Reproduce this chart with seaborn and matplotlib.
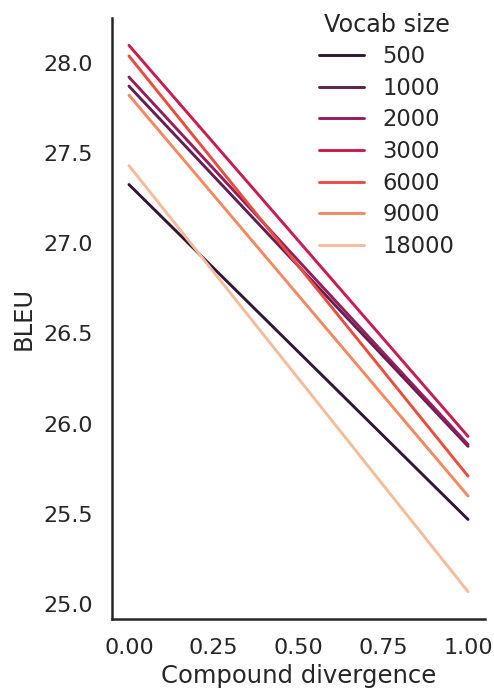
import pandas as pd
import matplotlib
matplotlib.use("Agg")
import matplotlib.pyplot as plt
import seaborn as sns

# BLEU at compound divergence 0 and 1, per vocab size
vocab_sizes = ["500", "1000", "2000", "3000", "6000", "9000", "18000"]
divergence = [0.0, 1.0]
bleu_start = [27.325, 27.87, 27.92, 28.096, 28.037, 27.82, 27.43]
bleu_end = [25.47, 25.875, 25.885, 25.93, 25.71, 25.60, 25.07]

rows = []
for v, b0, b1 in zip(vocab_sizes, bleu_start, bleu_end):
    rows.append({"Vocab size": v, "Compound divergence": divergence[0], "BLEU": b0})
    rows.append({"Vocab size": v, "Compound divergence": divergence[1], "BLEU": b1})
df = pd.DataFrame(rows)

sns.set_theme(style="white", font_scale=1.5)

fig, ax = plt.subplots(figsize=(4.94, 6.89), dpi=100)
fig.subplots_adjust(left=112 / 494, right=485 / 494, top=1 - 18 / 689, bottom=1 - 619 / 689)

sns.lineplot(data=df, x="Compound divergence", y="BLEU", hue="Vocab size",
             hue_order=vocab_sizes, palette="rocket", linewidth=2.1, ax=ax)

ax.set_xticks([0.0, 0.25, 0.5, 0.75, 1.0])
ax.set_yticks([25.0, 25.5, 26.0, 26.5, 27.0, 27.5, 28.0])
ax.set_xticklabels(["0.00", "0.25", "0.50", "0.75", "1.00"])
ax.set_yticklabels(["25.0", "25.5", "26.0", "26.5", "27.0", "27.5", "28.0"])
ax.set_xlabel("Compound divergence", fontsize=17.5, labelpad=4)
ax.set_ylabel("BLEU", fontsize=17.5, labelpad=5)
sns.despine(ax=ax)
ax.tick_params(axis="both", length=0, pad=14, labelsize=16)
for s in ["left", "bottom"]:
    ax.spines[s].set_color("#262626")
    ax.spines[s].set_linewidth(1.8)

leg = ax.legend(title="Vocab size", frameon=False, loc="upper right",
                bbox_to_anchor=(0.972, 1.043), fontsize=16.3, title_fontsize=17.2,
                labelspacing=0.38)

fig.savefig("out.png", dpi=100)
